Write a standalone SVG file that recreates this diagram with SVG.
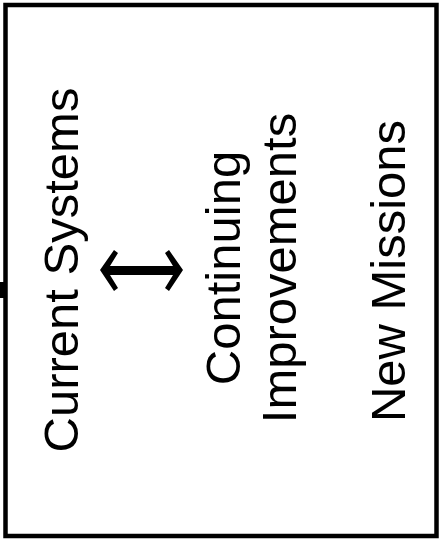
<svg xmlns="http://www.w3.org/2000/svg" width="440" height="542" viewBox="0 0 440 542">
  <style>
    .lbl { font-family: "Liberation Sans", Arial, Helvetica, sans-serif; font-size: 49px; fill: #000; text-anchor: middle; }
  </style>
  <rect x="0" y="0" width="440" height="542" fill="#fff"/>
  <g id="frame">
    <rect x="5.5" y="5" width="431" height="531" fill="none" stroke="#000" stroke-width="4.5"/>
    <rect x="0" y="282" width="7" height="16" fill="#000"/>
  </g>
  <g id="node-current">
    <text class="lbl" transform="translate(78,270) rotate(-90)">Current Systems</text>
  </g>
  <g id="node-continuing">
    <text class="lbl" transform="translate(240,268) rotate(-90)">Continuing</text>
    <text class="lbl" transform="translate(296,268) rotate(-90)">Improvements</text>
  </g>
  <g id="node-new">
    <text class="lbl" transform="translate(405,271) rotate(-90)">New Missions</text>
  </g>
  <g id="connectors">
    <path d="M100,270 L114,250 L118,253 L110,266 L173,266 L165,253 L169,250 L183,270 L169,291 L165,288 L173,275 L110,275 L118,288 L114,291 Z" fill="#000"/>
  </g>
</svg>
